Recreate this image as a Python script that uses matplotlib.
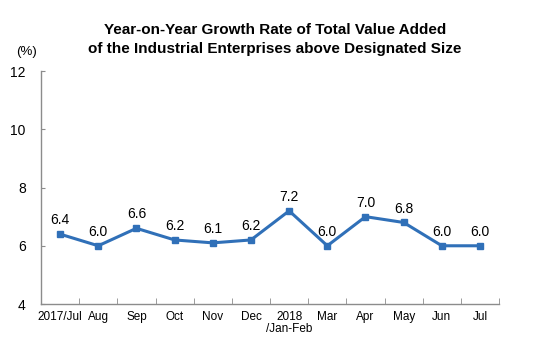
import matplotlib
matplotlib.use("Agg")
import matplotlib.pyplot as plt
from matplotlib.ticker import FixedLocator

plt.rcParams['font.family'] = ['Liberation Sans', 'DejaVu Sans']

months = ["2017/Jul", "Aug", "Sep", "Oct", "Nov", "Dec", "2018\n/Jan-Feb",
          "Mar", "Apr", "May", "Jun", "Jul"]
growth = [6.4, 6.0, 6.6, 6.2, 6.1, 6.2, 7.2, 6.0, 7.0, 6.8, 6.0, 6.0]
y_ticks = [4, 6, 8, 10, 12]

line_color = "#3070b8"
axis_color = "#8c8c8c"

fig = plt.figure(figsize=(5.5, 3.43), dpi=100)
ax = fig.add_axes([0.0745, 0.1137, 0.833, 0.679])

x = list(range(len(months)))
ax.plot(x, growth, color=line_color, linewidth=2.2, marker="s", markersize=4)

for xi, v in zip(x, growth):
    ax.annotate(f"{v:.1f}", (xi, v), xytext=(0, 5), textcoords="offset points",
                ha="center", va="bottom", fontsize=10)

ax.set_xlim(-0.5, len(months) - 0.5)
ax.set_ylim(4, 12)
ax.set_yticks(y_ticks)
ax.set_xticks(x)
ax.set_xticklabels(months, fontsize=8.5, linespacing=1.0,
                   family=['Liberation Sans Narrow', 'Liberation Sans', 'DejaVu Sans'])
ax.xaxis.set_minor_locator(FixedLocator([i - 0.5 for i in range(len(months) + 1)]))
ax.tick_params(axis="x", which="major", length=0, pad=5)
ax.tick_params(axis="x", which="minor", length=4, color=axis_color, direction="in")
ax.tick_params(axis="y", length=3, color=axis_color, direction="in", labelsize=10, pad=11)

for side in ["top", "right"]:
    ax.spines[side].set_visible(False)
for side in ["left", "bottom"]:
    ax.spines[side].set_color(axis_color)
    ax.spines[side].set_linewidth(1.0)

fig.text(0.5, 0.885, "Year-on-Year Growth Rate of Total Value Added\n"
         "of the Industrial Enterprises above Designated Size",
         ha="center", va="center", fontsize=11, fontweight="bold", linespacing=1.45)
fig.text(0.03, 0.848, "(%)", ha="left", va="center", fontsize=9.5)

fig.savefig("out.png", dpi=100)
